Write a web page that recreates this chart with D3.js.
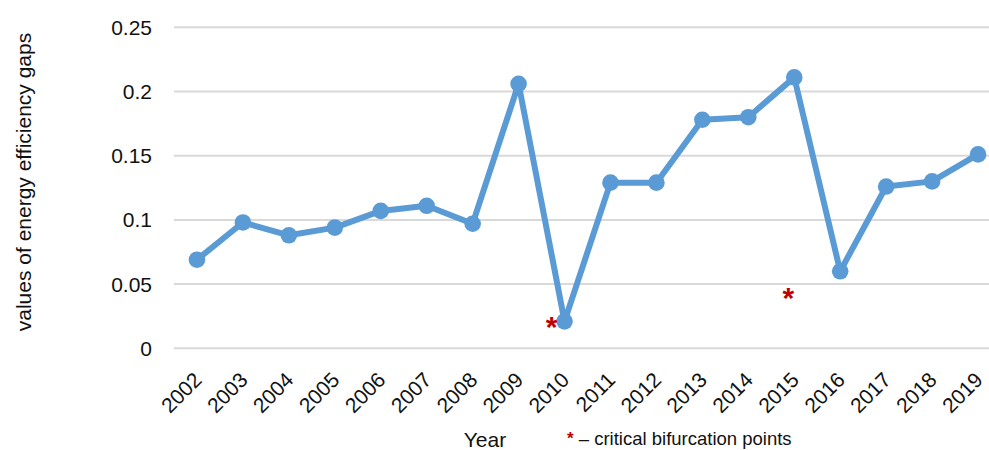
<!DOCTYPE html>
<html>
<head>
<meta charset="utf-8">
<script src="https://cdn.jsdelivr.net/npm/d3@7"></script>
<style>
  html, body { margin: 0; padding: 0; background: #fff; }
  svg { display: block; font-family: "Liberation Sans", Arial, sans-serif; }
</style>
</head>
<body>
<svg id="chart" width="989" height="450"></svg>
<script>
// Energy efficiency gap values by year
const years = ["2002","2003","2004","2005","2006","2007","2008","2009","2010",
               "2011","2012","2013","2014","2015","2016","2017","2018","2019"];
const gapValues = [0.069, 0.098, 0.088, 0.094, 0.107, 0.111, 0.097, 0.206, 0.021,
                   0.129, 0.129, 0.178, 0.180, 0.211, 0.060, 0.126, 0.130, 0.151];
const yTicks = [0, 0.05, 0.1, 0.15, 0.2, 0.25];
const yTickLabels = ["0", "0.05", "0.1", "0.15", "0.2", "0.25"];
// Critical bifurcation points: the year each star sits at and its height on the value axis
const bifurcationYears = ["2010", "2015"];
const bifurcationValues = [0.0195, 0.0425];

const svg = d3.select("#chart");
const W = 989, H = 450;
const plot = { left: 174, right: 1001, top: 27.3, bottom: 348.3 };
const textColor = "#111";

const x = d3.scalePoint().domain(years).range([plot.left, plot.right]).padding(0.5);
const y = d3.scaleLinear().domain([0, 0.25]).range([plot.bottom, plot.top]);

// Horizontal gridlines
svg.append("g").selectAll("line").data(yTicks).join("line")
  .attr("x1", plot.left).attr("x2", W)
  .attr("y1", d => y(d)).attr("y2", d => y(d))
  .attr("stroke", "#d9d9d9").attr("stroke-width", 2);

// Value-axis labels
svg.append("g").selectAll("text").data(yTicks).join("text")
  .attr("x", 152).attr("y", d => y(d)).attr("dy", "0.36em")
  .attr("text-anchor", "end").attr("font-size", 21).attr("fill", textColor)
  .text((d, i) => yTickLabels[i]);

// Year labels, slanted
svg.append("g").selectAll("text").data(years).join("text")
  .attr("transform", d => `translate(${x(d) + 6},${plot.bottom + 33}) rotate(-45)`)
  .attr("text-anchor", "end").attr("font-size", 21).attr("fill", textColor)
  .text(d => d);

// Axis titles
svg.append("text")
  .attr("transform", `translate(31,182) rotate(-90)`)
  .attr("text-anchor", "middle").attr("font-size", 21).attr("fill", textColor)
  .text("values of energy efficiency gaps");

svg.append("text")
  .attr("x", 485).attr("y", 447)
  .attr("text-anchor", "middle").attr("font-size", 21).attr("fill", textColor)
  .text("Year");

// Series line and markers
const line = d3.line().x((d, i) => x(years[i])).y(d => y(d));
svg.append("path").datum(gapValues)
  .attr("d", line).attr("fill", "none")
  .attr("stroke", "#5b9bd5").attr("stroke-width", 6)
  .attr("stroke-linejoin", "round");

svg.append("g").selectAll("circle").data(gapValues).join("circle")
  .attr("cx", (d, i) => x(years[i])).attr("cy", d => y(d)).attr("r", 8.3)
  .attr("fill", "#5b9bd5");

// Bifurcation stars, set just left of their year
const starShift = [-13, -6];
svg.append("g").selectAll("text").data(bifurcationYears).join("text")
  .attr("x", (d, i) => x(d) + starShift[i])
  .attr("y", (d, i) => y(bifurcationValues[i]))
  .attr("dy", "0.46em")
  .attr("text-anchor", "middle").attr("font-size", 30).attr("font-weight", "bold")
  .attr("fill", "#c00000")
  .text("*");

// Note below the chart
const note = svg.append("text").attr("x", 567).attr("y", 445).attr("font-size", 18.5).attr("fill", textColor);
note.append("tspan").attr("fill", "#c00000").attr("font-size", 17).attr("font-weight", "bold").attr("dy", -1).text("*");
note.append("tspan").attr("dy", 1).text(" \u2013 critical bifurcation points");
</script>
</body>
</html>
